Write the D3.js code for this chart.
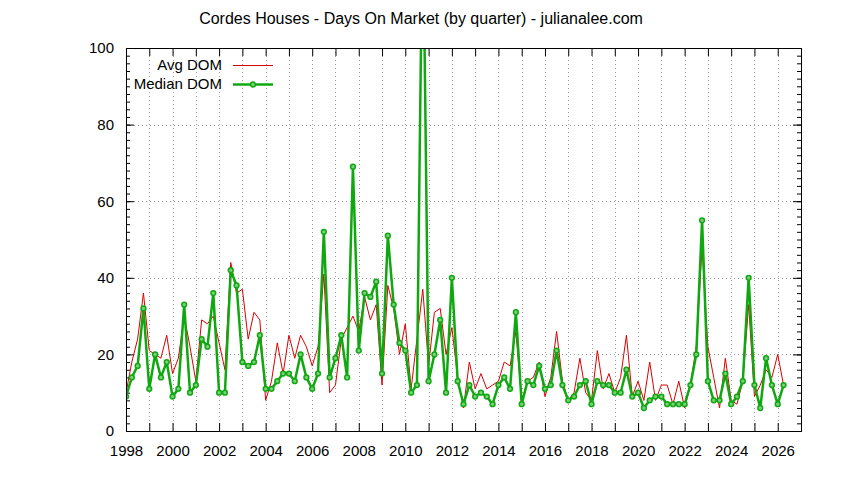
<!DOCTYPE html>
<html>
<head>
<meta charset="utf-8">
<script src="https://cdn.jsdelivr.net/npm/d3@7"></script>
<style>
  body { margin: 0; background: #fff; }
  text { font-family: "Liberation Sans", sans-serif; fill: #000; }
</style>
</head>
<body>
<svg width="844" height="480"></svg>
<script>
// quarterly series, first quarter = 1998 Q1
var startYear = 1998;

var medianDom = [
    9, 14, 17, 32, 11, 20, 14, 18, 9, 11, 33, 10, 12, 24, 22, 36, 10, 10, 42, 38,
    18, 17, 18, 25, 11, 11, 13, 15, 15, 13, 20, 14, 11, 15, 52, 14, 19, 25, 14, 69,
    21, 36, 35, 39, 15, 51, 33, 23, 21, 10, 12, 140, 13, 20, 29, 10, 40, 13, 7, 12,
    9, 10, 9, 7, 12, 14, 11, 31, 7, 13, 12, 17, 11, 12, 21, 12, 8, 9, 12, 13,
    7, 13, 12, 12, 10, 10, 16, 9, 10, 6, 8, 9, 9, 7, 7, 7, 7, 12, 20, 55,
    13, 8, 8, 15, 7, 9, 13, 40, 12, 6, 19, 12, 7, 12
];

var avgDom = [
    10, 18, 24, 36, 21, 20, 19, 25, 15, 19, 30, 22, 13, 29, 28, 30, 23, 16, 44, 36,
    37, 24, 31, 29, 8, 13, 23, 15, 25, 19, 25, 22, 17, 22, 41, 10, 12, 24, 27, 30,
    26, 35, 29, 33, 12, 38, 32, 20, 28, 11, 24, 37, 17, 31, 32, 20, 27, 14, 6, 18,
    11, 15, 11, 12, 13, 18, 17, 26, 8, 13, 14, 18, 9, 14, 26, 13, 8, 10, 19, 10,
    8, 21, 11, 15, 10, 14, 25, 9, 13, 8, 18, 8, 12, 12, 7, 13, 6, 12, 22, 48,
    22, 14, 6, 19, 8, 7, 13, 33, 9, 12, 16, 14, 20, 12
];

var yearTicks = d3.range(1998, 2027);        // grid + tick every year
var yearLabels = d3.range(1998, 2027, 2);    // labels every 2 years
var domTicks = [0, 20, 40, 60, 80, 100];

var svg = d3.select('svg');

var plot = {l: 126, r: 801, t: 48, b: 431};

var x = d3.scaleLinear().domain([1998, 2027]).range([plot.l, plot.r]);
var y = d3.scaleLinear().domain([0, 100]).range([plot.b, plot.t]);

function qx(d, i) { return x(startYear + i / 4); }

// title
svg.append('text')
    .attr('x', 421)
    .attr('y', 24)
    .attr('text-anchor', 'middle')
    .style('font-size', '16px')
    .text('Cordes Houses - Days On Market (by quarter) - julianalee.com');

// grid
var grid = svg.append('g').attr('class', 'grid')
    .attr('stroke', '#a0a0a0')
    .attr('stroke-width', 1)
    .attr('stroke-dasharray', '1,3');

grid.selectAll('.vx')
    .data(yearTicks.filter(function(d){ return d > 1998; }))
    .enter().append('line')
    .attr('x1', function(d){ return Math.round(x(d)) + 0.5; })
    .attr('x2', function(d){ return Math.round(x(d)) + 0.5; })
    .attr('y1', plot.t)
    .attr('y2', plot.b);

grid.selectAll('.hy')
    .data(domTicks.filter(function(d){ return d > 0 && d < 100; }))
    .enter().append('line')
    .attr('y1', function(d){ return Math.round(y(d)) + 0.5; })
    .attr('y2', function(d){ return Math.round(y(d)) + 0.5; })
    .attr('x1', plot.l)
    .attr('x2', plot.r);

// axes (gnuplot style: inward ticks, mirrored)
var xBottom = d3.axisBottom(x).tickValues(yearTicks).tickSizeInner(-8).tickSizeOuter(0)
    .tickPadding(14)
    .tickFormat(function(d){ return yearLabels.indexOf(d) >= 0 ? d : ''; });
var xTop = d3.axisTop(x).tickValues(yearTicks).tickSizeInner(-8).tickSizeOuter(0)
    .tickFormat('');
var yLeft = d3.axisLeft(y).tickValues(domTicks).tickSizeInner(-8).tickSizeOuter(0)
    .tickPadding(12);
var yRight = d3.axisRight(y).tickValues(domTicks).tickSizeInner(-8).tickSizeOuter(0)
    .tickFormat('');
var yMinorL = d3.axisLeft(y).tickValues(d3.range(2, 100, 2)).tickSizeInner(-4).tickSizeOuter(0)
    .tickFormat('');
var yMinorR = d3.axisRight(y).tickValues(d3.range(2, 100, 2)).tickSizeInner(-4).tickSizeOuter(0)
    .tickFormat('');

function styleAxis(g) {
    g.select('.domain').remove();
    g.selectAll('line').attr('stroke', '#000');
    g.selectAll('text').style('font-size', '15px').style('font-family', '"Liberation Sans", sans-serif');
}

svg.append('g').attr('transform', 'translate(0,' + plot.b + ')').call(xBottom).call(styleAxis);
svg.append('g').attr('transform', 'translate(0,' + plot.t + ')').call(xTop).call(styleAxis);
svg.append('g').attr('transform', 'translate(' + plot.l + ',0)').call(yLeft).call(styleAxis);
svg.append('g').attr('transform', 'translate(' + plot.r + ',0)').call(yRight).call(styleAxis);
svg.append('g').attr('transform', 'translate(' + plot.l + ',0)').call(yMinorL).call(styleAxis);
svg.append('g').attr('transform', 'translate(' + plot.r + ',0)').call(yMinorR).call(styleAxis);

// clip to plot area
svg.append('clipPath').attr('id', 'clip')
    .append('rect')
    .attr('x', plot.l).attr('y', plot.t)
    .attr('width', plot.r - plot.l).attr('height', plot.b - plot.t);

var dataG = svg.append('g').attr('clip-path', 'url(#clip)');

var avgLine = d3.line().x(qx).y(function(d){ return y(d); });
var medLine = d3.line().x(qx).y(function(d){ return y(d); });

dataG.append('path')
    .datum(avgDom)
    .attr('fill', 'none')
    .attr('stroke', '#dd0000')
    .attr('stroke-width', 1)
    .attr('d', avgLine);

dataG.append('path')
    .datum(medianDom)
    .attr('fill', 'none')
    .attr('stroke', '#10a810')
    .attr('stroke-width', 2.5)
    .attr('stroke-linejoin', 'round')
    .attr('d', medLine);

dataG.selectAll('.pt')
    .data(medianDom)
    .enter().append('circle')
    .attr('class', 'pt')
    .attr('cx', qx)
    .attr('cy', function(d){ return y(d); })
    .attr('r', 2.4)
    .attr('fill', '#7ccf7c')
    .attr('stroke', '#10a810')
    .attr('stroke-width', 1.5);

// frame
svg.append('rect')
    .attr('x', plot.l + 0.5).attr('y', plot.t + 0.5)
    .attr('width', plot.r - plot.l).attr('height', plot.b - plot.t)
    .attr('fill', 'none')
    .attr('stroke', '#000')
    .attr('stroke-width', 1);

// legend
var legend = svg.append('g');
legend.append('text')
    .attr('x', 222).attr('y', 70)
    .attr('text-anchor', 'end')
    .style('font-size', '15px')
    .text('Avg DOM');
legend.append('line')
    .attr('x1', 233).attr('x2', 273).attr('y1', 65.5).attr('y2', 65.5)
    .attr('stroke', '#dd0000').attr('stroke-width', 1);
legend.append('text')
    .attr('x', 222).attr('y', 89)
    .attr('text-anchor', 'end')
    .style('font-size', '15px')
    .text('Median DOM');
legend.append('line')
    .attr('x1', 233).attr('x2', 273).attr('y1', 84.5).attr('y2', 84.5)
    .attr('stroke', '#10a810').attr('stroke-width', 2.5);
legend.append('circle')
    .attr('cx', 253).attr('cy', 84.5).attr('r', 2.4)
    .attr('fill', '#7ccf7c')
    .attr('stroke', '#10a810').attr('stroke-width', 1.5);
</script>
</body>
</html>
